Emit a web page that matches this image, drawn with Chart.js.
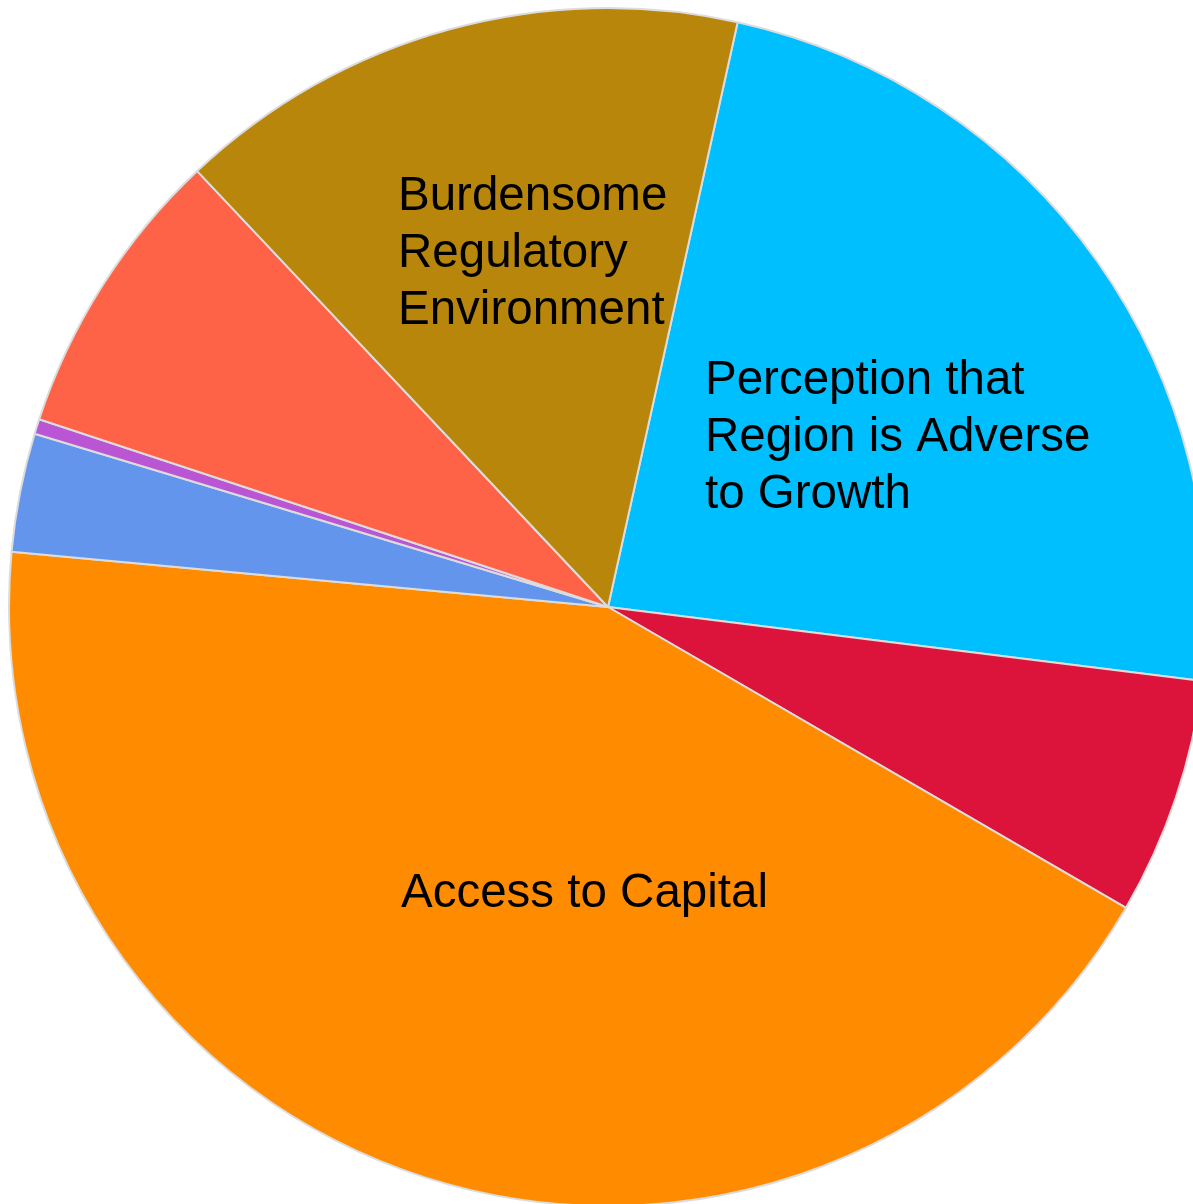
<!DOCTYPE html>
<html>
<head>
<meta charset="utf-8">
<script src="https://cdn.jsdelivr.net/npm/chart.js@4"></script>
<style>
  html, body { margin: 0; padding: 0; background: #fff; overflow: hidden; }
  body { width: 1193px; height: 1204px; position: relative; }
  #wrap { position: absolute; left: 8px; top: 7px; width: 1200px; height: 1200px; }
</style>
</head>
<body>
<div id="wrap"><canvas id="pieChart"></canvas></div>
<script>
// slices, clockwise from the first one
const categories = [
    'Perception that Region is Adverse to Growth',
    '',
    'Access to Capital',
    '',
    '',
    '',
    'Burdensome Regulatory Environment'
];
const shares = [23.5, 6.4, 43.1, 3.2, 0.4, 7.9, 15.5];
const sliceColors = ['#00BFFF', '#DC143C', '#FF8C00', '#6495ED', '#BA55D3', '#FF6347', '#B8860B'];

// text lines inside the big slices, placed relative to the pie centre
const sliceLabels = [
    { lines: ['Perception that', 'Region is Adverse', 'to Growth'], dx: 97, dy: -213 },
    { lines: ['Access to Capital'], dx: -207, dy: 300 },
    { lines: ['Burdensome', 'Regulatory', 'Environment'], dx: -210, dy: -397 }
];

const labelPlugin = {
    id: 'sliceText',
    afterDatasetsDraw(chart) {
        const arc = chart.getDatasetMeta(0).data[0];
        const ctx = chart.ctx;
        ctx.save();
        ctx.font = '47.5px "Liberation Sans", Arial, sans-serif';
        ctx.fillStyle = '#000';
        ctx.textAlign = 'left';
        ctx.textBaseline = 'alphabetic';
        sliceLabels.forEach(l => {
            l.lines.forEach((t, i) => {
                ctx.fillText(t, arc.x + l.dx, arc.y + l.dy + i * 57);
            });
        });
        ctx.restore();
    }
};

new Chart(document.getElementById('pieChart'), {
    type: 'pie',
    data: {
        labels: categories,
        datasets: [{
            data: shares,
            backgroundColor: sliceColors,
            borderColor: '#dcdcdc',
            borderWidth: 2
        }]
    },
    options: {
        responsive: true,
        maintainAspectRatio: false,
        animation: false,
        rotation: 12.5,
        layout: { padding: 0 },
        plugins: {
            legend: { display: false },
            tooltip: { enabled: false }
        }
    },
    plugins: [labelPlugin]
});
</script>
</body>
</html>
